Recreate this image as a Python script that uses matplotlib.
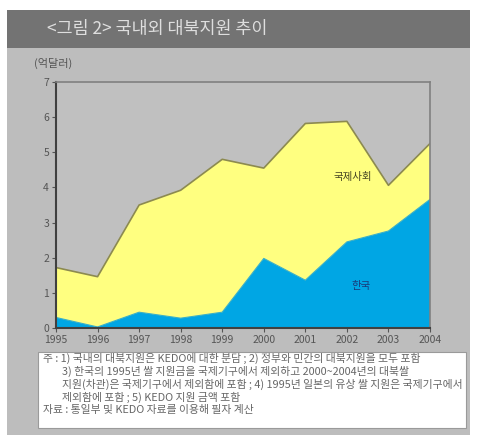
import matplotlib
matplotlib.use("Agg")
import matplotlib.pyplot as plt
from matplotlib.patches import Rectangle
import numpy as np

plt.rcParams['font.family'] = ['Noto Sans CJK KR', 'DejaVu Sans']

years = [1995, 1996, 1997, 1998, 1999, 2000, 2001, 2002, 2003, 2004]
korea = [0.30, 0.03, 0.45, 0.28, 0.45, 1.98, 1.36, 2.45, 2.76, 3.66]
international = [1.42, 1.43, 3.05, 3.64, 4.35, 2.57, 4.46, 3.43, 1.30, 1.59]
yticks = [0, 1, 2, 3, 4, 5, 6, 7]

title = "<그림 2> 국내외 대북지원 추이"
unit = "(억달러)"
label_intl = "국제사회"
label_korea = "한국"
notes = [
    "주 : 1) 국내의 대북지원은 KEDO에 대한 분담 ; 2) 정부와 민간의 대북지원을 모두 포함",
    "3) 한국의 1995년 쌀 지원금을 국제기구에서 제외하고 2000~2004년의 대북쌀",
    "지원(차관)은 국제기구에서 제외함에 포함 ; 4) 1995년 일본의 유상 쌀 지원은 국제기구에서",
    "제외함에 포함 ; 5) KEDO 지원 금액 포함",
]
source = "자료 : 통일부 및 KEDO 자료를 이용해 필자 계산"

W, H = 480, 442
fig = plt.figure(figsize=(W / 100, H / 100), dpi=100)
fig.patch.set_facecolor('white')

def px_rect(x0, y0, x1, y1, color, z=0, ec='none'):
    r = Rectangle((x0 / W, 1 - y1 / H), (x1 - x0) / W, (y1 - y0) / H,
                  transform=fig.transFigure, facecolor=color, edgecolor=ec,
                  zorder=z, linewidth=0.8)
    fig.patches.append(r)

px_rect(7, 10, 470, 435, '#bdbdbd', z=-3)
px_rect(7, 10, 470, 48, '#737373', z=-2)
px_rect(38, 352, 466, 428, 'white', z=-2, ec='#9a9a9a')

fig.text(47 / W, 1 - 29 / H, title, fontsize=12.5, color='#dedede',
         ha='left', va='center')
fig.text(34 / W, 1 - 63 / H, unit, fontsize=8, color='#555555',
         ha='left', va='center')

ax = fig.add_axes([56 / W, 1 - 328 / H, (430 - 56) / W, (328 - 82) / H])
ax.set_zorder(5)
ax.set_facecolor('#c0c0c0')
ax.stackplot(years, korea, international,
             colors=['#00a6e4', '#ffff80'], linewidth=0)
total = np.array(korea) + np.array(international)
ax.plot(years, total, color='#8c8a50', linewidth=1.2)
ax.plot(years, korea, color='#39b0c8', linewidth=0.8)

ax.set_xlim(years[0], years[-1])
ax.set_ylim(0, 7)
ax.set_yticks(yticks)
ax.set_yticklabels([str(v) for v in yticks])
ax.set_xticks(years)
ax.set_xticklabels([str(y) for y in years])
ax.tick_params(axis='both', labelsize=7.5, colors='#555555', length=3,
               width=0.8, direction='out', pad=2)
for side in ['left', 'bottom']:
    ax.spines[side].set_color('#404040')
    ax.spines[side].set_linewidth(1.5)
for side in ['top', 'right']:
    ax.spines[side].set_color('#808080')
    ax.spines[side].set_linewidth(1.2)

ax.text(2002.15, 4.3, label_intl, fontsize=7.5, color='#444422',
        ha='center', va='center')
ax.text(2002.35, 1.2, label_korea, fontsize=7.5, color='#1a3a7a',
        ha='center', va='center')

y0 = 358
fs = 7.8
fig.text(43 / W, 1 - y0 / H, notes[0], fontsize=fs, color='#666666',
         ha='left', va='center')
for i, line in enumerate(notes[1:]):
    fig.text(62 / W, 1 - (y0 + 13 * (i + 1)) / H, line, fontsize=fs,
             color='#666666', ha='left', va='center')
fig.text(43 / W, 1 - (y0 + 52) / H, source, fontsize=fs, color='#666666',
         ha='left', va='center')

fig.savefig('out.png', dpi=100, facecolor=fig.get_facecolor())
